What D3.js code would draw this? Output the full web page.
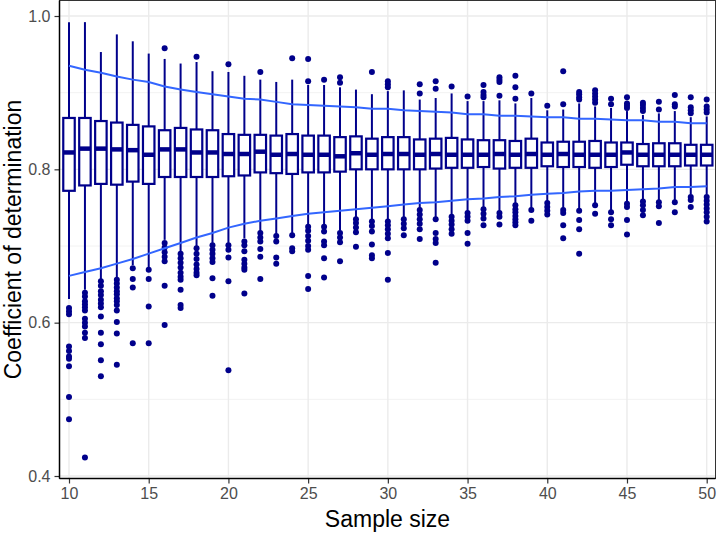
<!DOCTYPE html>
<html>
<head>
<meta charset="utf-8">
<script src="https://cdn.jsdelivr.net/npm/d3@7"></script>
<style>
	body{margin:0;background:#fff;}
	svg{display:block;}
</style>
</head>
<body>
<svg id="chart" width="717" height="534"></svg>
<script>
//样本量
var sampleSize = [10,11,12,13,14,15,16,17,18,19,20,21,22,23,24,25,26,27,28,29,30,
	31,32,33,34,35,36,37,38,39,40,41,42,43,44,45,46,47,48,49,50];

//箱线图统计量
var q3 = [0.867,0.867,0.863,0.861,0.858,0.856,0.851,0.854,0.852,0.851,0.846,0.845,0.845,0.844,0.846,0.844,0.844,0.842,0.843,0.840,0.842,
	0.842,0.839,0.840,0.841,0.839,0.838,0.838,0.837,0.840,0.835,0.836,0.836,0.837,0.835,0.835,0.833,0.834,0.834,0.832,0.832];
var median = [0.822,0.827,0.827,0.826,0.825,0.819,0.826,0.826,0.822,0.822,0.820,0.820,0.823,0.819,0.820,0.819,0.819,0.817,0.821,0.819,0.820,
	0.820,0.819,0.820,0.819,0.819,0.819,0.820,0.819,0.820,0.819,0.820,0.819,0.819,0.819,0.822,0.819,0.819,0.819,0.819,0.819];
var q1 = [0.772,0.779,0.781,0.780,0.784,0.781,0.790,0.790,0.790,0.790,0.791,0.792,0.796,0.795,0.794,0.796,0.796,0.797,0.800,0.800,0.800,
	0.800,0.800,0.801,0.802,0.802,0.803,0.801,0.802,0.802,0.804,0.803,0.803,0.802,0.803,0.806,0.804,0.804,0.804,0.805,0.805];
var whiskerHigh = [0.992,0.992,0.953,0.976,0.967,0.951,0.944,0.938,0.940,0.928,0.927,0.922,0.917,0.914,0.917,0.910,0.910,0.907,0.904,0.898,0.902,
	0.903,0.891,0.893,0.899,0.889,0.889,0.890,0.886,0.893,0.877,0.878,0.886,0.882,0.880,0.876,0.871,0.873,0.876,0.868,0.869];
var whiskerLow = [0.631,0.643,0.656,0.658,0.675,0.672,0.708,0.693,0.699,0.704,0.704,0.710,0.719,0.715,0.717,0.727,0.727,0.720,0.737,0.734,0.734,
	0.737,0.748,0.737,0.740,0.745,0.750,0.745,0.755,0.749,0.758,0.749,0.748,0.755,0.746,0.757,0.760,0.759,0.759,0.767,0.767];

//离群点
var outliers = [
	[0.619,0.615,0.611,0.569,0.563,0.556,0.553,0.543,0.503,0.474],
	[0.639,0.634,0.628,0.624,0.620,0.616,0.605,0.600,0.595,0.587,0.580,0.424],
	[0.654,0.648,0.641,0.636,0.630,0.625,0.620,0.608,0.587,0.572,0.551,0.530],
	[0.656,0.651,0.646,0.641,0.637,0.632,0.628,0.623,0.616,0.601,0.586,0.545],
	[0.671,0.657,0.646,0.573],
	[0.669,0.657,0.621,0.573],
	[0.958,0.704,0.698,0.692,0.686,0.680,0.648,0.597],
	[0.690,0.684,0.678,0.672,0.665,0.660,0.656,0.643,0.623,0.619],
	[0.947,0.697,0.690,0.683,0.676,0.670,0.665,0.662],
	[0.701,0.695,0.690,0.684,0.679,0.658,0.635],
	[0.937,0.701,0.695,0.685,0.654,0.538],
	[0.706,0.701,0.693,0.682,0.677,0.672,0.669,0.638],
	[0.927,0.717,0.711,0.706,0.696,0.686,0.657],
	[0.713,0.706,0.685,0.677],
	[0.945,0.714,0.697,0.693],
	[0.944,0.915,0.725,0.720,0.713,0.707,0.700,0.695,0.661,0.644],
	[0.917,0.725,0.719,0.706,0.701,0.684,0.659],
	[0.920,0.913,0.717,0.711,0.705,0.680],
	[0.735,0.730,0.724,0.718,0.699],
	[0.927,0.732,0.726,0.719,0.702,0.688,0.684],
	[0.915,0.911,0.907,0.732,0.727,0.722,0.716,0.710,0.691,0.656],
	[0.735,0.729,0.723,0.714],
	[0.911,0.899,0.747,0.741,0.735,0.729,0.722,0.709],
	[0.915,0.905,0.735,0.717,0.709,0.704,0.678],
	[0.908,0.738,0.733,0.728,0.722,0.716],
	[0.895,0.743,0.738,0.733,0.717,0.703],
	[0.910,0.901,0.897,0.894,0.748,0.742,0.736,0.727],
	[0.920,0.917,0.914,0.896,0.743,0.738,0.728],
	[0.922,0.907,0.892,0.753,0.748,0.744,0.739,0.735,0.731,0.727],
	[0.899,0.747,0.733],
	[0.883,0.756,0.751,0.746,0.741],
	[0.928,0.885,0.747,0.743,0.727,0.710],
	[0.901,0.898,0.894,0.891,0.746,0.734,0.722,0.690],
	[0.903,0.899,0.895,0.891,0.887,0.753,0.742],
	[0.892,0.885,0.744,0.735,0.727],
	[0.894,0.886,0.883,0.880,0.755,0.751,0.734,0.715],
	[0.887,0.884,0.880,0.876,0.758,0.753,0.747,0.740],
	[0.888,0.878,0.757,0.752,0.730],
	[0.897,0.885,0.882,0.757,0.744],
	[0.894,0.881,0.877,0.873,0.764,0.760,0.751],
	[0.891,0.882,0.878,0.874,0.764,0.759,0.754,0.749,0.744,0.738,0.732]
];

//上下两条蓝线
var upperLine = [0.935,0.930,0.926,0.921,0.917,0.914,0.908,0.904,0.901,0.898,0.895,0.892,0.891,0.888,0.885,0.884,0.883,0.882,0.881,0.879,0.879,
	0.877,0.876,0.875,0.874,0.872,0.872,0.870,0.870,0.869,0.868,0.868,0.866,0.866,0.865,0.864,0.864,0.862,0.862,0.860,0.860];
var lowerLine = [0.661,0.666,0.671,0.677,0.683,0.690,0.697,0.704,0.711,0.717,0.724,0.729,0.733,0.736,0.739,0.742,0.744,0.746,0.748,0.750,0.752,
	0.754,0.756,0.757,0.759,0.761,0.762,0.764,0.765,0.767,0.768,0.769,0.771,0.772,0.772,0.773,0.774,0.775,0.777,0.777,0.778];

//坐标刻度
var xTicks = [10,15,20,25,30,35,40,45,50];
var yTicks = [0.4,0.6,0.8,1.0];
var yMinor = [0.5,0.7,0.9];

var boxColor = "#00008B";
var lineColor = "#3366FF";
var font = "Liberation Sans, Arial, sans-serif";

var s = d3.select("#chart");
var width = +s.attr("width");
var height = +s.attr("height");

//面板边界
var panel = {left:59.5, right:715.5, top:0.5, bottom:478.5};

var x = d3.scaleLinear().domain([10,50]).range([69,706.7]);
var y = d3.scaleLinear().domain([0.4,1.0]).range([476,16]);
var boxW = (x(11)-x(10))*0.72;

//白色背景
s.append("rect")
	.attr("width", width)
	.attr("height", height)
	.attr("fill", "#fff");

//网格线
var grid = s.append("g");
grid.selectAll(".ym")
	.data(yMinor)
	.enter().append("line")
	.attr("x1", panel.left).attr("x2", panel.right)
	.attr("y1", function(d){ return y(d); })
	.attr("y2", function(d){ return y(d); })
	.attr("stroke", "#f2f2f2")
	.attr("stroke-width", 1);
grid.selectAll(".yM")
	.data(yTicks)
	.enter().append("line")
	.attr("x1", panel.left).attr("x2", panel.right)
	.attr("y1", function(d){ return y(d); })
	.attr("y2", function(d){ return y(d); })
	.attr("stroke", "#ebebeb")
	.attr("stroke-width", 1.4);
grid.selectAll(".xM")
	.data(xTicks)
	.enter().append("line")
	.attr("y1", panel.top).attr("y2", panel.bottom)
	.attr("x1", function(d){ return x(d); })
	.attr("x2", function(d){ return x(d); })
	.attr("stroke", "#ebebeb")
	.attr("stroke-width", 1.4);

//箱线图数据
var dataset = [];
sampleSize.forEach(function(n, i){
	dataset.push({n:n, q1:q1[i], med:median[i], q3:q3[i], lo:whiskerLow[i], hi:whiskerHigh[i], out:outliers[i]});
});

var boxes = s.append("g").selectAll("g")
	.data(dataset)
	.enter().append("g");

//须线
boxes.append("line")
	.attr("x1", function(d){ return x(d.n); })
	.attr("x2", function(d){ return x(d.n); })
	.attr("y1", function(d){ return y(d.hi); })
	.attr("y2", function(d){ return y(d.q3); })
	.attr("stroke", boxColor)
	.attr("stroke-width", 2);
boxes.append("line")
	.attr("x1", function(d){ return x(d.n); })
	.attr("x2", function(d){ return x(d.n); })
	.attr("y1", function(d){ return y(d.q1); })
	.attr("y2", function(d){ return y(d.lo); })
	.attr("stroke", boxColor)
	.attr("stroke-width", 2);

//箱体
boxes.append("rect")
	.attr("x", function(d){ return x(d.n)-boxW/2; })
	.attr("y", function(d){ return y(d.q3); })
	.attr("width", boxW)
	.attr("height", function(d){ return y(d.q1)-y(d.q3); })
	.attr("fill", "#fff")
	.attr("stroke", boxColor)
	.attr("stroke-width", 2.2);

//中位数
boxes.append("line")
	.attr("x1", function(d){ return x(d.n)-boxW/2; })
	.attr("x2", function(d){ return x(d.n)+boxW/2; })
	.attr("y1", function(d){ return y(d.med); })
	.attr("y2", function(d){ return y(d.med); })
	.attr("stroke", boxColor)
	.attr("stroke-width", 4.5);

//离群点
boxes.selectAll("circle")
	.data(function(d){
		return d.out.map(function(v){ return [d.n, v]; });
	})
	.enter().append("circle")
	.attr("cx", function(d){ return x(d[0]); })
	.attr("cy", function(d){ return y(d[1]); })
	.attr("r", 3)
	.attr("fill", boxColor);

//蓝线
var line = d3.line()
	.x(function(d){ return x(d[0]); })
	.y(function(d){ return y(d[1]); });
[upperLine, lowerLine].forEach(function(vals){
	s.append("path")
		.datum(sampleSize.map(function(n, i){ return [n, vals[i]]; }))
		.attr("d", line)
		.attr("fill", "none")
		.attr("stroke", lineColor)
		.attr("stroke-width", 2);
});

//面板边框
s.append("rect")
	.attr("x", panel.left)
	.attr("y", panel.top)
	.attr("width", panel.right-panel.left)
	.attr("height", panel.bottom-panel.top)
	.attr("fill", "none")
	.attr("stroke", "#333")
	.attr("stroke-width", 1);

//坐标轴
var xAxis = d3.axisBottom(x).tickValues(xTicks).tickSize(5).tickPadding(4)
	.tickFormat(d3.format("d"));
var yAxis = d3.axisLeft(y).tickValues(yTicks).tickSize(5).tickPadding(4)
	.tickFormat(d3.format(".1f"));

var gx = s.append("g")
	.attr("transform", "translate(0," + panel.bottom + ")")
	.call(xAxis);
var gy = s.append("g")
	.attr("transform", "translate(" + panel.left + ",0)")
	.call(yAxis);
[gx, gy].forEach(function(g){
	g.select(".domain").remove();
	g.selectAll("line").attr("stroke", "#333").attr("stroke-width", 1.2);
	g.selectAll("text")
		.attr("fill", "#4d4d4d")
		.style("font-family", font)
		.style("font-size", "16px");
});

//左、下轴线
s.append("line")
	.attr("x1", panel.left).attr("x2", panel.left)
	.attr("y1", panel.top).attr("y2", panel.bottom)
	.attr("stroke", "#000").attr("stroke-width", 1.5);
s.append("line")
	.attr("x1", panel.left).attr("x2", panel.right)
	.attr("y1", panel.bottom).attr("y2", panel.bottom)
	.attr("stroke", "#000").attr("stroke-width", 1.5);

//轴标题
s.append("text")
	.attr("x", (panel.left+panel.right)/2)
	.attr("y", 527)
	.style("text-anchor", "middle")
	.style("font-family", font)
	.style("font-size", "23px")
	.attr("fill", "#000")
	.text("Sample size");
s.append("text")
	.attr("transform", "translate(20.5," + ((panel.top+panel.bottom)/2) + ") rotate(-90)")
	.style("text-anchor", "middle")
	.style("font-family", font)
	.style("font-size", "23px")
	.attr("fill", "#000")
	.text("Coefficient of determination");
</script>
</body>
</html>
